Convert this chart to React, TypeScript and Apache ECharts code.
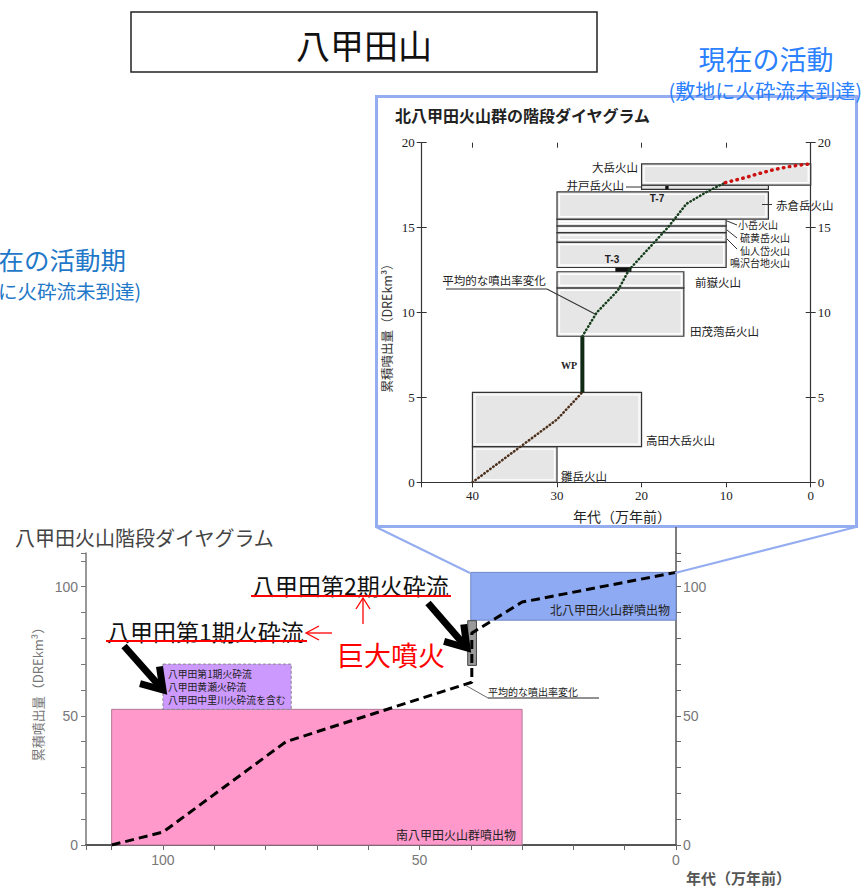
import React, { useEffect, useRef } from 'react';
import * as echarts from 'echarts';

const JP = '"Noto Sans CJK JP", "Noto Sans", sans-serif';
const SERIF = '"Liberation Serif", "DejaVu Serif", "Noto Sans CJK JP", serif';
const SANS = '"Liberation Sans", "Noto Sans CJK JP", sans-serif';

// ---------- lower chart (八甲田火山階段ダイヤグラム) ----------
const lowerXTicks = [0, 50, 100];
const lowerYTicks = [0, 50, 100];
// [ageStart, ageEnd, volBottom, volTop]
const lowerBlocks = [
  [110, 30, 0, 52.5],
  [100, 75, 52.5, 70],
  [40, 0, 87, 105.5],
  [40.6, 38.9, 69.5, 86.8],
];
const lowerBlockNames = [
  '南八甲田火山群噴出物',
  '八甲田第1期火砕流\n八甲田黄瀬火砕流\n八甲田中里川火砕流を含む',
  '北八甲田火山群噴出物',
  '',
];
const lowerCumAge = [110, 100, 76, 39.8, 39.8, 30, 0];
const lowerCumVol = [0, 5, 40, 63, 82, 94, 105.5];

// ---------- inset chart (北八甲田火山群の階段ダイヤグラム) ----------
const insetXTicks = [0, 10, 20, 30, 40];
const insetYTicks = [0, 5, 10, 15, 20];
const insetBlocks = [
  [40, 30, 0, 2.1],
  [40, 20, 2.1, 5.3],
  [30, 15, 8.6, 11.45],
  [30, 15, 11.45, 12.4],
  [30, 10, 12.65, 14.15],
  [30, 10, 14.15, 14.7],
  [30, 10, 14.7, 15.1],
  [30, 10, 15.1, 15.5],
  [30, 5, 15.5, 17.1],
  [20, 5, 17.25, 17.5],
  [20, 0, 17.5, 18.75],
];
const insetBlockNames = [
  '雛岳火山', '高田大岳火山', '田茂萢岳火山', '前嶽火山', '鳴沢台地火山',
  '仙人岱火山', '硫黄岳火山', '小岳火山', '赤倉岳火山', '井戸岳火山', '大岳火山',
];
const tephraMarks = [
  [23.1, 21.2, 12.4, 12.62],
  [17.2, 16.8, 17.25, 17.45],
];
const tephraNames = ['T-3', 'T-7'];
const earlyAge = [40, 30, 27];
const earlyVol = [0, 3.7, 5.3];
const wpAge = [27, 27];
const wpVol = [5.3, 8.6];
const midAge = [27, 25.3, 22.8, 21.5, 16.9, 14.7, 12.3, 10.1];
const midVol = [8.6, 10, 11.3, 12.5, 15, 16.4, 17.1, 17.65];
const presentAge = [10.1, 8.2, 6.2, 4.2, 2.25, 0];
const presentVol = [17.65, 17.88, 18.17, 18.43, 18.62, 18.76];

const pairs = (a: number[], b: number[]) => a.map((v, i) => [v, b[i]]);

const lowerFill = ['#ff99cc', '#cc99ff', '#8eaaf2', '#9a9a9a'];
const lowerStroke = ['#b07898', '#888888', '#6f86c8', '#444444'];
const lowerLabelPos = ['br', 'tl', 'br', 'none'];

function T(text: string, x: number, y: number, size: number, opt: any = {}) {
  const align = opt.align || 'left';
  return {
    type: 'text', x, y, z: 50, rotation: opt.rot || 0,
    style: {
      text, fontSize: size, fontFamily: opt.font || JP, fill: opt.color || '#222',
      fontWeight: opt.weight || 'normal',
      textAlign: align, align, textVerticalAlign: 'middle', verticalAlign: 'middle',
    },
  };
}
function L(x1: number, y1: number, x2: number, y2: number, color: string, w: number) {
  return { type: 'line', z: 50, shape: { x1, y1, x2, y2 }, style: { stroke: color, lineWidth: w } };
}
function arrow(x1: number, y1: number, x2: number, y2: number, color: string, w: number, hl: number, hh: number) {
  const dx = x2 - x1, dy = y2 - y1, len = Math.hypot(dx, dy);
  const ux = dx / len, uy = dy / len, px = -uy, py = ux;
  const bx = x2 - ux * hl, by = y2 - uy * hl;
  return [
    L(x1, y1, x2 - ux * w * 0.3, y2 - uy * w * 0.3, color, w),
    {
      type: 'polyline', z: 50,
      shape: { points: [[bx + px * hh, by + py * hh], [x2, y2], [bx - px * hh, by - py * hh]] },
      style: { stroke: color, lineWidth: w, fill: null, lineJoin: 'miter' },
    },
  ];
}

function lowerRender(params: any, api: any) {
  const i = params.dataIndex;
  const a = api.coord([api.value(0), api.value(3)]);
  const b = api.coord([api.value(1), api.value(2)]);
  const x = Math.min(a[0], b[0]), y = Math.min(a[1], b[1]);
  const w = Math.abs(b[0] - a[0]), h = Math.abs(b[1] - a[1]);
  const children: any[] = [{
    type: 'rect', shape: { x, y, width: w, height: h },
    style: { fill: lowerFill[i], stroke: lowerStroke[i], lineWidth: 1, lineDash: i === 1 ? [3, 2] : null },
  }];
  const name = lowerBlockNames[i];
  if (name && lowerLabelPos[i] === 'tl') {
    name.split('\n').forEach((line, k) => {
      children.push({
        type: 'text', x: x + 5, y: y + 10 + k * 12.7,
        style: { text: line, fontSize: 9.8, fill: '#222', fontFamily: JP,
          textAlign: 'left', align: 'left', textVerticalAlign: 'middle', verticalAlign: 'middle' },
      });
    });
  } else if (name) {
    children.push({
      type: 'text', x: x + w - 6, y: y + h - 5,
      style: { text: name, fontSize: 12, fill: '#222', fontFamily: JP,
        textAlign: 'right', align: 'right', textVerticalAlign: 'bottom', verticalAlign: 'bottom' },
    });
  }
  return { type: 'group', children };
}

function insetRender(params: any, api: any) {
  const a = api.coord([api.value(0), api.value(3)]);
  const b = api.coord([api.value(1), api.value(2)]);
  const x = Math.min(a[0], b[0]), y = Math.min(a[1], b[1]);
  const w = Math.abs(b[0] - a[0]), h = Math.abs(b[1] - a[1]);
  const children: any[] = [
    { type: 'rect', shape: { x, y, width: w, height: h }, style: { fill: '#e6e6e6', stroke: '#333', lineWidth: 1.2 } },
  ];
  if (h > 6) {
    children.push({
      type: 'rect', shape: { x: x + 2.5, y: y + 2.5, width: w - 5, height: h - 5 },
      style: { fill: null, stroke: '#ffffff', lineWidth: 1.3 },
    });
  }
  return { type: 'group', children };
}

function markRender(params: any, api: any) {
  const a = api.coord([api.value(0), api.value(3)]);
  const b = api.coord([api.value(1), api.value(2)]);
  const x = Math.min(a[0], b[0]), y = Math.min(a[1], b[1]);
  return {
    type: 'rect',
    shape: { x, y, width: Math.max(2, Math.abs(b[0] - a[0])), height: Math.max(2, Math.abs(b[1] - a[1])) },
    style: { fill: '#111' },
  };
}

function buildOption(): any {
  const ink = '#333';
  const insetLabel = (font = SERIF) => ({ fontFamily: font, fontSize: 13, color: '#222' });
  const graphic: any[] = [
    // top titles
    { type: 'rect', z: 40, shape: { x: 131, y: 12, width: 466, height: 60 }, style: { fill: '#fff', stroke: '#222', lineWidth: 1.5 } },
    T('八甲田山', 364, 44, 34, { align: 'center', color: '#111' }),
    T('現在の活動', 766, 58, 27, { align: 'center', color: '#2a80ff' }),
    T('(敷地に火砕流未到達)', 862, 90, 20, { align: 'right', color: '#2a80ff' }),
    T('現在の活動期', 126, 258, 25.5, { align: 'right', color: '#1f78c8' }),
    T('(敷地に火砕流未到達)', 141, 290, 19.5, { align: 'right', color: '#1f78c8' }),
    // inset frame + connectors
    { type: 'rect', z: 45, shape: { x: 376.5, y: 96.5, width: 480, height: 430 }, style: { fill: null, stroke: '#94acf0', lineWidth: 3 } },
    L(376, 527, 470, 573, '#94acf0', 2),
    L(856, 527, 675, 573, '#94acf0', 2),
    L(676, 527, 676, 553, '#555', 1.5),
    // inset titles
    T('北八甲田火山群の階段ダイヤグラム', 395, 115, 16, { weight: 'bold', color: '#222' }),
    T('累積噴出量（DREkm³）', 386, 325, 12.5, { align: 'center', rot: Math.PI / 2, color: '#333' }),
    T('年代（万年前）', 622, 516, 14, { align: 'center', color: '#222' }),
    // inset volcano labels
    T(insetBlockNames[10], 638, 167, 11.5, { align: 'right' }),
    T(insetBlockNames[9], 624, 184.5, 11.5, { align: 'right' }),
    L(626, 187, 642, 187, ink, 1),
    L(762, 204.5, 772, 204.5, ink, 1),
    T(insetBlockNames[8], 776, 204.5, 11.5),
    L(727, 221, 737, 225, ink, 1),
    T(insetBlockNames[7], 738, 224, 10),
    L(727, 230, 737, 238, ink, 1),
    T(insetBlockNames[6], 740, 237.5, 10),
    L(727, 239, 737, 249, ink, 1),
    T(insetBlockNames[5], 740, 250, 10),
    T(insetBlockNames[4], 730, 262.5, 10),
    T(insetBlockNames[3], 695, 282, 11.5),
    T(insetBlockNames[2], 690, 331, 11.5),
    T(insetBlockNames[1], 646, 440, 11.5),
    T(insetBlockNames[0], 561, 476, 11.5),
    T(tephraNames[0], 612, 259.5, 10, { align: 'center', font: SANS, weight: 'bold' }),
    T(tephraNames[1], 657, 198, 10, { align: 'center', font: SANS, weight: 'bold' }),
    T('WP', 569, 365, 10, { align: 'center', font: SERIF, weight: 'bold' }),
    T('平均的な噴出率変化', 494, 280, 11.5, { align: 'center' }),
    { type: 'polyline', z: 50, shape: { points: [[446, 289], [547, 289], [595, 314]] }, style: { stroke: ink, lineWidth: 1.2, fill: null } },
    // lower chart titles
    T('八甲田火山階段ダイヤグラム', 15, 537, 20, { color: '#444' }),
    T('累積噴出量（DREkm³）', 37, 691, 13, { align: 'center', rot: Math.PI / 2, color: '#777' }),
    T('年代（万年前）', 686, 877, 15, { color: '#555', weight: 'bold' }),
    // lower annotations
    T('八甲田第2期火砕流', 252, 585, 23, { color: '#111' }),
    L(251, 596, 451, 596, '#ff0000', 2),
    T('八甲田第1期火砕流', 107, 631, 23, { color: '#111' }),
    L(106, 641, 307, 641, '#ff0000', 2),
    T('巨大噴火', 337, 654, 27, { color: '#ff0000' }),
    ...arrow(363, 624, 363, 598, '#ff0000', 1.3, 11, 7),
    ...arrow(332, 633, 306, 633, '#ff0000', 1.3, 13, 7),
    ...arrow(124, 646, 163, 690, '#000', 7, 20, 13),
    ...arrow(428, 603, 467, 648, '#000', 7, 20, 13),
    T('平均的な噴出率変化', 488, 691, 10, { color: '#222' }),
    L(488, 698, 599, 698, '#222', 1),
    L(465, 685, 488, 698, '#444', 0.8),
  ];

  const fmt = (ticks: number[]) => (v: number) => (ticks.includes(v) ? String(v) : '');

  return {
    animation: false,
    backgroundColor: '#ffffff',
    grid: [
      { left: 86, right: 189, top: 553, bottom: 43, outerBoundsMode: 'none' },
      { left: 421.7, right: 54.3, top: 142.7, bottom: 405.7, outerBoundsMode: 'none' },
    ],
    xAxis: [
      {
        gridIndex: 0, type: 'value', min: 0, max: 115, interval: 10, inverse: true,
        axisLine: { show: true, onZero: false, lineStyle: { color: '#555', width: 2 } },
        axisTick: { show: true, length: 5, lineStyle: { color: '#666' } },
        axisLabel: { formatter: fmt(lowerXTicks), color: '#777', fontSize: 14, fontFamily: SANS, margin: 8 },
        splitLine: { show: false },
      },
      {
        gridIndex: 1, type: 'value', min: 0, max: 46, interval: 10, inverse: true,
        axisLine: { show: true, onZero: false, lineStyle: { color: ink, width: 1.2 } },
        axisTick: { show: true, length: 5, lineStyle: { color: ink } },
        axisLabel: { ...insetLabel(), formatter: fmt(insetXTicks), margin: 7 },
        splitLine: { show: false },
      },
      {
        gridIndex: 1, type: 'value', min: 0, max: 46, interval: 10, inverse: true,
        axisLine: { show: false, onZero: false },
        axisTick: { show: true, inside: true, length: 5, lineStyle: { color: ink } },
        axisLabel: { show: false },
        splitLine: { show: false },
      },
    ],
    yAxis: [
      {
        gridIndex: 0, type: 'value', position: 'left', min: 0, max: 113, interval: 10,
        axisLine: { show: true, onZero: false, lineStyle: { color: '#777', width: 1.5 } },
        axisTick: { show: true, length: 5, lineStyle: { color: '#777' } },
        axisLabel: { formatter: fmt(lowerYTicks), color: '#777', fontSize: 14, fontFamily: SANS, margin: 8 },
        splitLine: { show: false },
      },
      {
        gridIndex: 0, type: 'value', position: 'right', min: 0, max: 113, interval: 10,
        axisLine: { show: true, onZero: false, lineStyle: { color: '#555', width: 1.5 } },
        axisTick: { show: true, length: 5, lineStyle: { color: '#666' } },
        axisLabel: { formatter: fmt(lowerYTicks), color: '#777', fontSize: 14, fontFamily: SANS, margin: 7 },
        splitLine: { show: false },
      },
      {
        gridIndex: 1, type: 'value', position: 'left', min: 0, max: 20, interval: 5,
        axisLine: { show: true, onZero: false, lineStyle: { color: ink, width: 1.2 } },
        axisTick: { show: true, length: 5, lineStyle: { color: ink } },
        axisLabel: { ...insetLabel(), formatter: fmt(insetYTicks), margin: 7 },
        splitLine: { show: false },
      },
      {
        gridIndex: 1, type: 'value', position: 'right', min: 0, max: 20, interval: 5,
        axisLine: { show: true, onZero: false, lineStyle: { color: ink, width: 1.2 } },
        axisTick: { show: true, length: 5, lineStyle: { color: ink } },
        axisLabel: { ...insetLabel(), formatter: fmt(insetYTicks), margin: 7 },
        splitLine: { show: false },
      },
      {
        gridIndex: 1, type: 'value', position: 'left', min: 0, max: 20, interval: 5,
        axisLine: { show: false, onZero: false },
        axisTick: { show: true, inside: true, length: 5, lineStyle: { color: ink } },
        axisLabel: { show: false }, splitLine: { show: false },
      },
      {
        gridIndex: 1, type: 'value', position: 'right', min: 0, max: 20, interval: 5,
        axisLine: { show: false, onZero: false },
        axisTick: { show: true, inside: true, length: 5, lineStyle: { color: ink } },
        axisLabel: { show: false }, splitLine: { show: false },
      },
    ],
    series: [
      {
        type: 'custom', xAxisIndex: 0, yAxisIndex: 0, z: 2, silent: true,
        encode: { x: [0, 1], y: [2, 3] }, data: lowerBlocks, renderItem: lowerRender,
      },
      {
        type: 'line', xAxisIndex: 0, yAxisIndex: 0, z: 5, silent: true,
        symbol: 'none', showSymbol: false, data: pairs(lowerCumAge, lowerCumVol),
        lineStyle: { color: '#000', width: 3, type: [9, 5] },
      },
      {
        type: 'custom', xAxisIndex: 1, yAxisIndex: 2, z: 2, silent: true,
        encode: { x: [0, 1], y: [2, 3] }, data: insetBlocks, renderItem: insetRender,
      },
      {
        type: 'custom', xAxisIndex: 1, yAxisIndex: 2, z: 4, silent: true,
        encode: { x: [0, 1], y: [2, 3] }, data: tephraMarks, renderItem: markRender,
      },
      {
        type: 'line', xAxisIndex: 1, yAxisIndex: 2, z: 5, silent: true,
        symbol: 'none', showSymbol: false, data: pairs(earlyAge, earlyVol),
        lineStyle: { color: '#4a2e1a', width: 2.5, type: [0.5, 3.2], cap: 'round' },
      },
      {
        type: 'line', xAxisIndex: 1, yAxisIndex: 2, z: 5, silent: true,
        symbol: 'none', showSymbol: false, data: pairs(wpAge, wpVol),
        lineStyle: { color: '#112a14', width: 4 },
      },
      {
        type: 'line', xAxisIndex: 1, yAxisIndex: 2, z: 5, silent: true,
        symbol: 'none', showSymbol: false, data: pairs(midAge, midVol),
        lineStyle: { color: '#163d1b', width: 2.5, type: [0.5, 3.2], cap: 'round' },
      },
      {
        type: 'line', xAxisIndex: 1, yAxisIndex: 2, z: 5, silent: true,
        symbol: 'none', showSymbol: false, data: pairs(presentAge, presentVol),
        lineStyle: { color: '#cc1111', width: 3.5, type: [0.5, 5.5], cap: 'round' },
      },
    ],
    graphic,
  };
}

export default function App() {
  const ref = useRef<HTMLDivElement>(null);
  useEffect(() => {
    document.body.style.margin = '0';
    const chart = echarts.init(ref.current as HTMLDivElement, null, { renderer: 'svg' });
    chart.setOption(buildOption());
    return () => chart.dispose();
  }, []);
  return <div ref={ref} style={{ width: 865, height: 888 }} />;
}
